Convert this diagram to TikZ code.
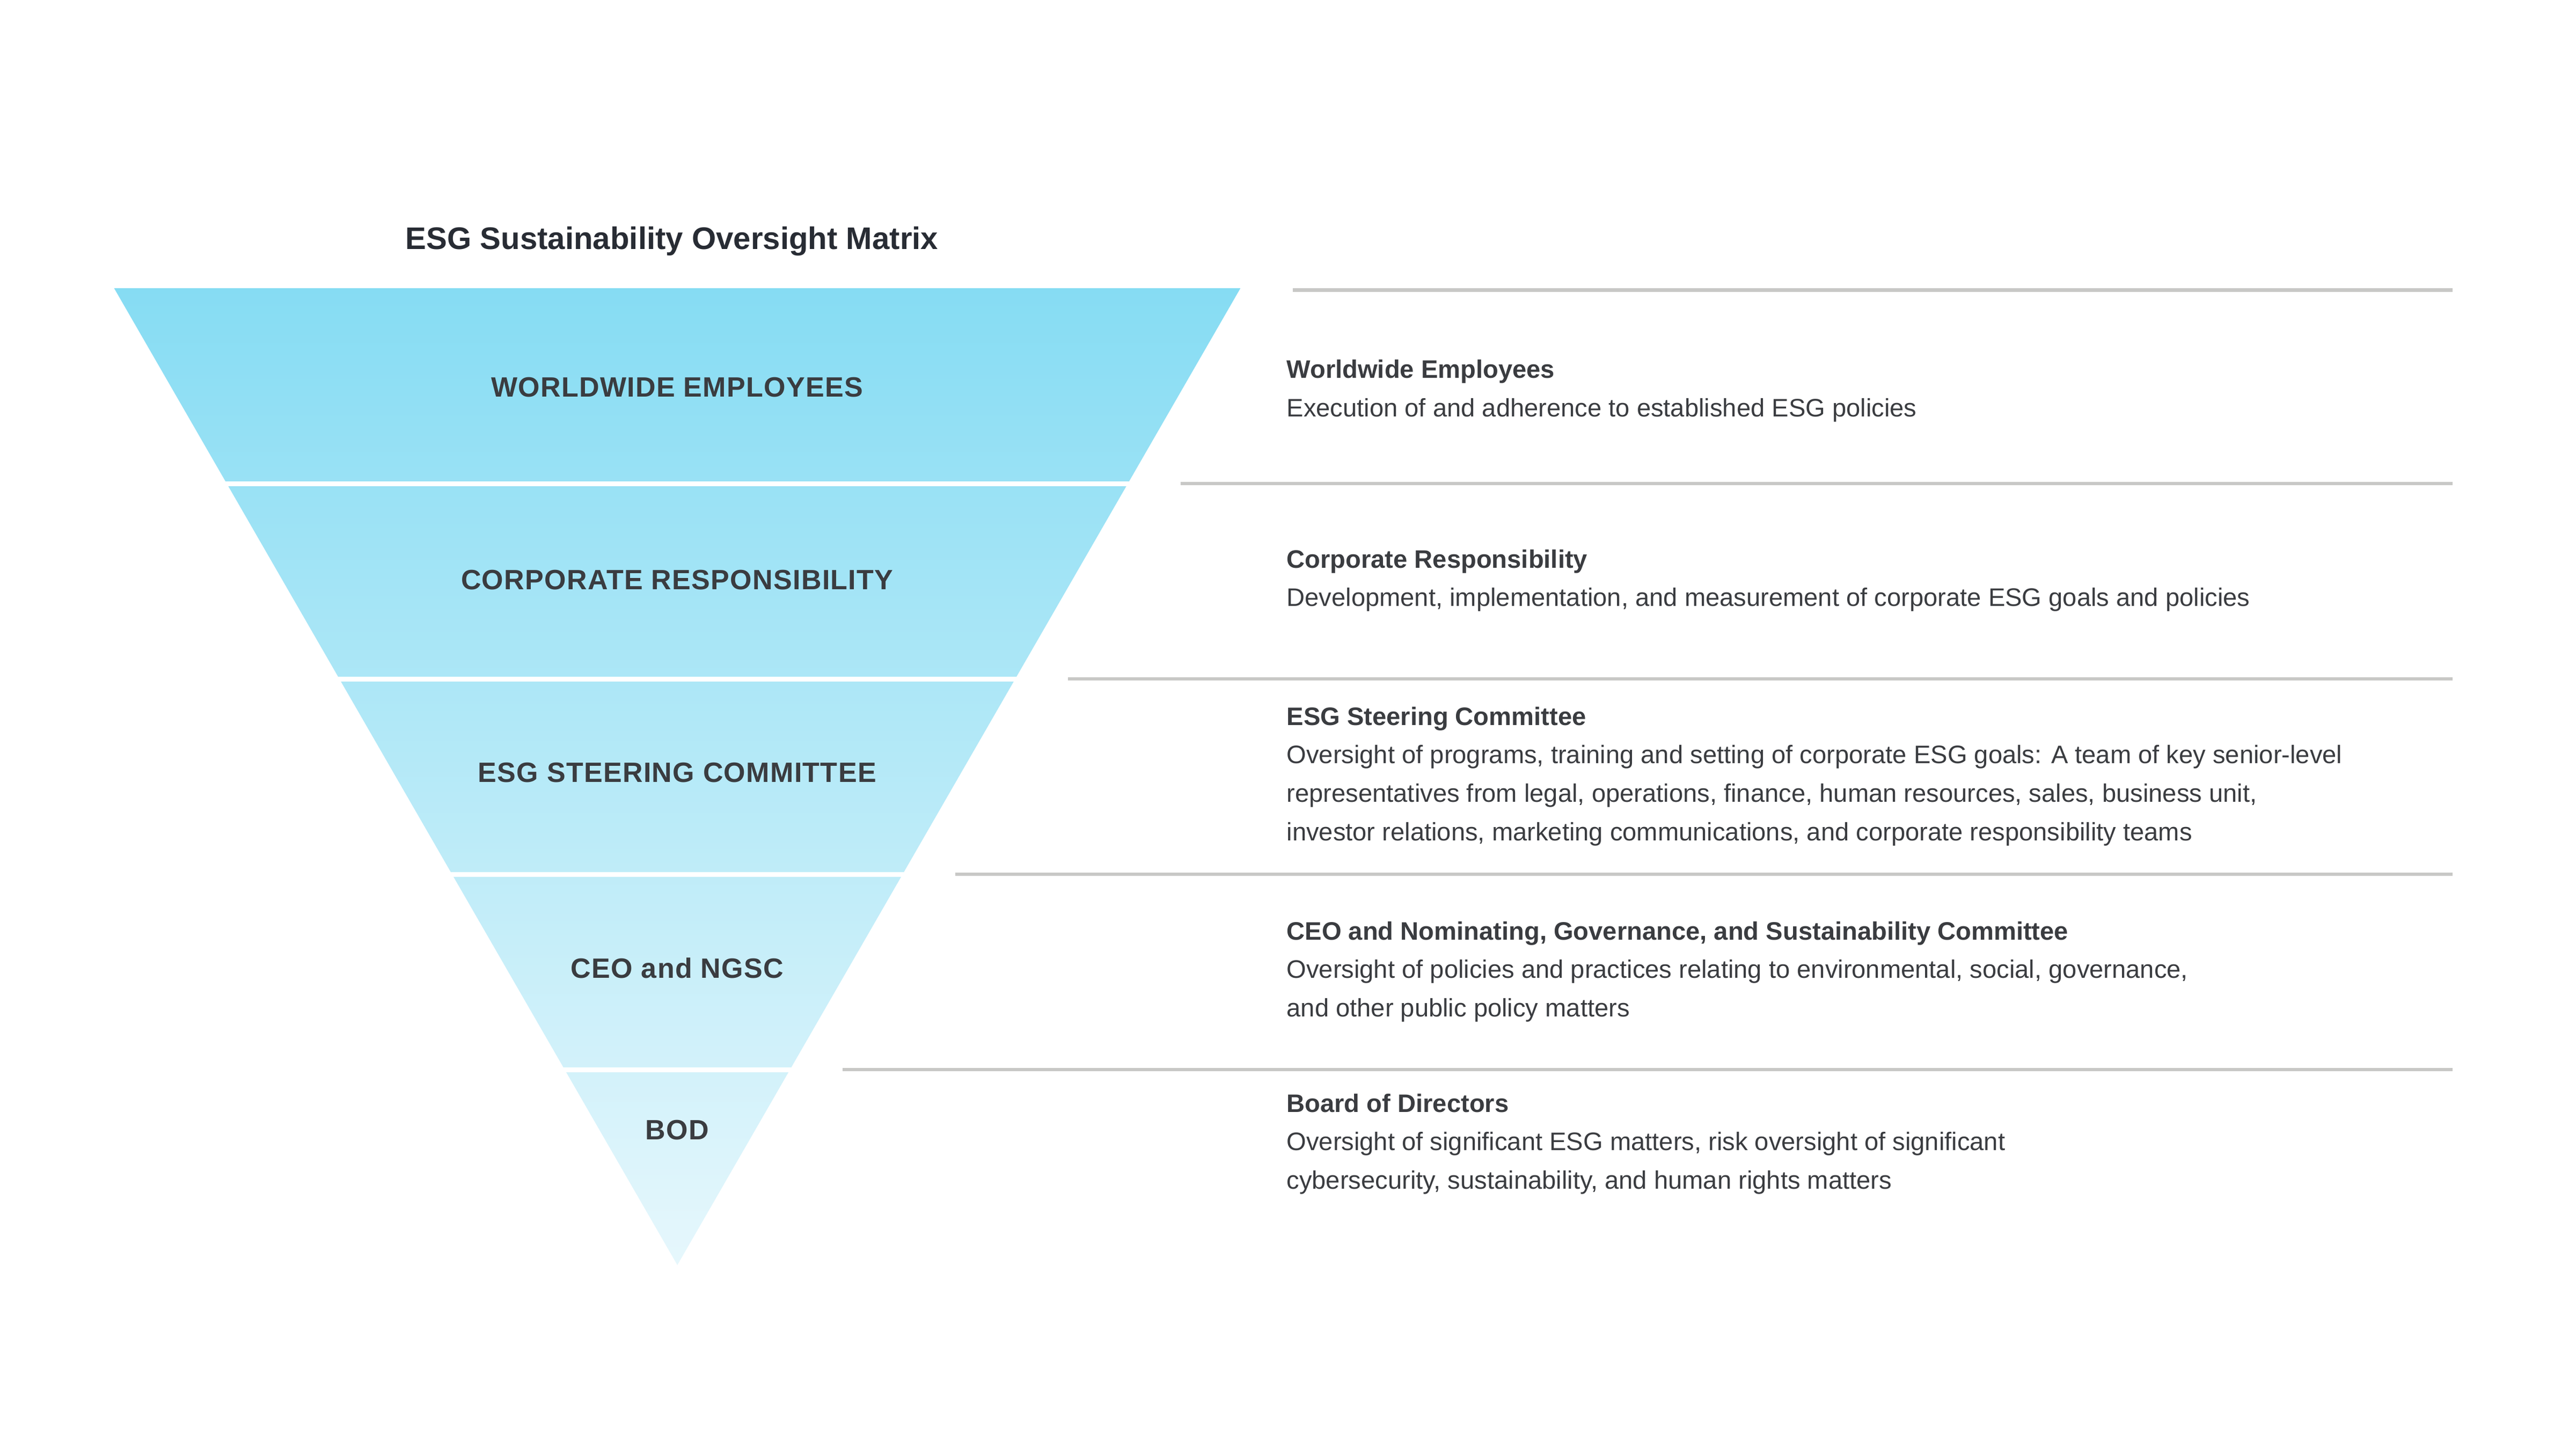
\documentclass[tikz,border=0pt]{standalone}
\usepackage{fontspec}
\setmainfont{Liberation Sans}
\newfontfamily\lblfont[LetterSpace=2.5]{Liberation Sans}
\definecolor{topc}{RGB}{134,220,243}
\definecolor{botc}{RGB}{230,247,252}
\definecolor{txt}{RGB}{58,60,64}
\definecolor{ttl}{RGB}{40,44,52}
\definecolor{rulec}{RGB}{200,200,198}
\begin{document}
\begin{tikzpicture}[x=1pt,y=-1pt,
  ttlstyle/.style={anchor=base,inner sep=0,text=ttl,font=\fontsize{19}{22}\selectfont\bfseries},
  lbl/.style={anchor=base,inner sep=0,text=txt,font=\lblfont\fontsize{17}{20}\selectfont\bfseries},
  hd/.style={anchor=base west,inner sep=0,text=txt,font=\fontsize{15.4}{18}\selectfont\bfseries},
  bd/.style={anchor=base west,inner sep=0,text=txt,align=left,font=\fontsize{15.4}{23.4}\selectfont},
  sep/.style={white,line width=3pt},
  rl/.style={rulec,line width=2.1pt}]
\useasboundingbox[fill=white] (0,0) rectangle (1568,882);
% triangle
\coordinate (A) at (69.5,175.5);
\coordinate (B) at (755,175.5);
\coordinate (C) at (412.3,770);
\shade[top color=topc,bottom color=botc] (A) -- (B) -- (C) -- cycle;
% separators
\foreach \y in {294.4,413.3,532.2,651.1}{
  \draw[sep] (60,\y) -- (765,\y);
}
% gray rules
\coordinate (r0s) at (787,176.5);  \coordinate (r0e) at (1493,176.5);
\coordinate (r1s) at (718.5,294.4); \coordinate (r1e) at (1493,294.4);
\coordinate (r2s) at (650,413.3);  \coordinate (r2e) at (1493,413.3);
\coordinate (r3s) at (581.5,532.2); \coordinate (r3e) at (1493,532.2);
\coordinate (r4s) at (513,651.1);  \coordinate (r4e) at (1493,651.1);
\draw[rl] (r0s) -- (r0e);
\draw[rl] (r1s) -- (r1e);
\draw[rl] (r2s) -- (r2e);
\draw[rl] (r3s) -- (r3e);
\draw[rl] (r4s) -- (r4e);
% title
\node[ttlstyle] (title) at (409,151.6) {ESG Sustainability Oversight Matrix};
% band labels
\node[lbl] (l1) at (412.2,241.5) {WORLDWIDE EMPLOYEES};
\node[lbl] (l2) at (412.2,358.7) {CORPORATE RESPONSIBILITY};
\node[lbl] (l3) at (412.2,476.2) {ESG STEERING COMMITTEE};
\node[lbl] (l4) at (412.2,595.3) {CEO and NGSC};
\node[lbl] (l5) at (412.2,693.7) {BOD};
% descriptions (multi-line nodes anchored at last baseline)
\node[hd] (h1) at (783,230.3) {Worldwide Employees};
\node[bd] (b1) at (783,253.7) {Execution of and adherence to established ESG policies};
\node[hd] (h2) at (783,345.7) {Corporate Responsibility};
\node[bd] (b2) at (783,369.1) {Development, implementation, and measurement of corporate ESG goals and policies};
\node[hd] (h3) at (783,441.4) {ESG Steering Committee};
\node[bd] (b3) at (783,511.6) {Oversight of programs, training and setting of corporate ESG goals: A team of key senior-level\\representatives from legal, operations, finance, human resources, sales, business unit,\\investor relations, marketing communications, and corporate responsibility teams};
\node[hd] (h4) at (783,572.1) {CEO and Nominating, Governance, and Sustainability Committee};
\node[bd] (b4) at (783,618.9) {Oversight of policies and practices relating to environmental, social, governance,\\and other public policy matters};
\node[hd] (h5) at (783,676.9) {Board of Directors};
\node[bd] (b5) at (783,723.7) {Oversight of significant ESG matters, risk oversight of significant\\cybersecurity, sustainability, and human rights matters};
\end{tikzpicture}
\end{document}
